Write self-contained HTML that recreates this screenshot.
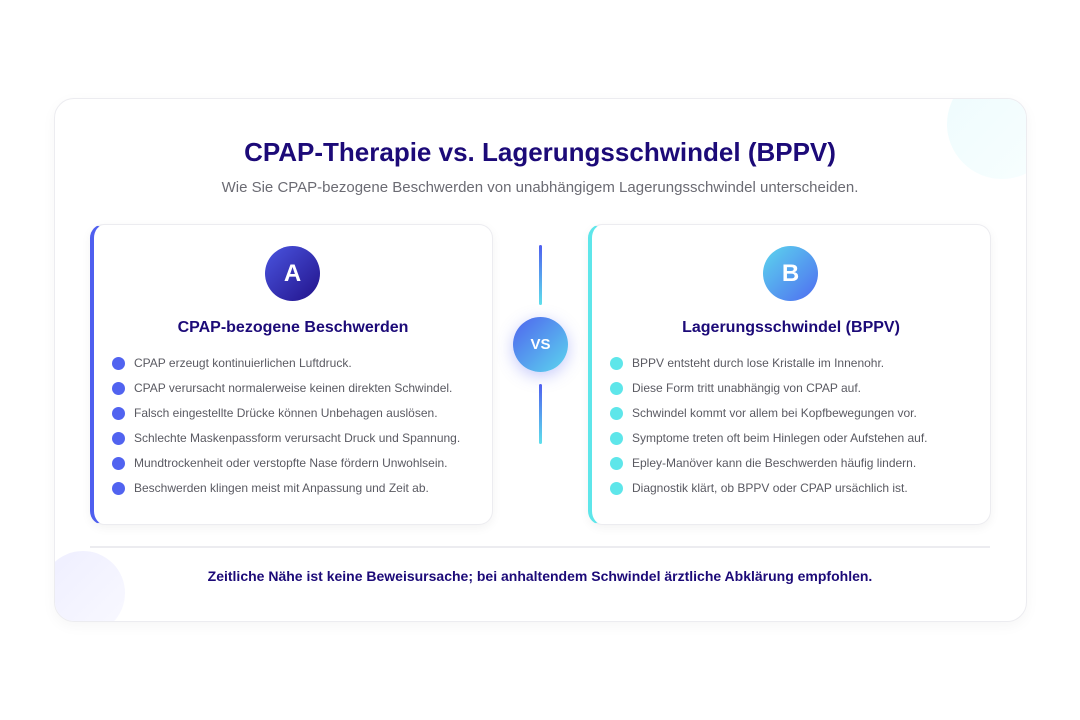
<!DOCTYPE html>
<html><head><meta charset="utf-8"><style>
*{margin:0;padding:0;box-sizing:border-box}
body{width:1080px;height:720px;background:#fff;font-family:"Liberation Sans","Noto Sans CJK SC",sans-serif;position:relative;overflow:hidden}
.outer{position:absolute;left:54px;top:98px;width:973px;height:524px;border:1.5px solid #ececf0;border-radius:20px;background:#fff;box-shadow:0 4px 14px rgba(0,0,0,0.04);overflow:hidden}
.blob1{position:absolute;left:892px;top:-30px;width:110px;height:110px;border-radius:50%;background:linear-gradient(135deg,#eefcfd,#f8feff)}
.blob2{position:absolute;left:-14px;top:452px;width:84px;height:84px;border-radius:50%;background:linear-gradient(135deg,#eeeeff,#f9f9ff)}
.t{position:absolute;left:0;width:1080px;text-align:center}
.sub{top:179px;font-size:15px;color:#6b6b73}
.card{position:absolute;top:224px;width:403px;height:301px;background:#fff;border:1.5px solid #ececf0;border-left:4px solid var(--b);border-radius:14px;box-shadow:0 3px 10px rgba(0,0,0,0.05);overflow:hidden}
.circ{position:absolute;top:21px;left:171px;width:55px;height:55px;border-radius:50%;color:#fff;font-weight:bold;font-size:24px;text-align:center;line-height:55px}
.card h2{position:absolute;top:94px;left:0;width:100%;text-align:center;font-size:16px;color:#1c0a78;font-weight:bold}
.card ul{list-style:none;position:absolute;left:18px;top:128px}
.card li{height:25px;font-size:12px;color:#5a5a62;position:relative;padding-left:22px;line-height:20px;white-space:nowrap}
.card li:before{content:"";position:absolute;left:0;top:4px;width:13px;height:13px;border-radius:50%;background:var(--d)}
.vline{position:absolute;left:539px;width:3px;height:60px;border-radius:2px;background:linear-gradient(#4f5fef,#5ee0ec)}
.vs{position:absolute;left:513px;top:317px;width:55px;height:55px;border-radius:50%;background:linear-gradient(135deg,#4f64ee,#5cd6ee);color:#fff;font-weight:bold;font-size:15px;text-align:center;line-height:55px;box-shadow:0 4px 16px rgba(90,100,240,0.35)}
.div{position:absolute;left:90px;top:546px;width:900px;height:2px;background:#ececf0}
.foot{top:568px;font-size:14px;font-weight:bold;color:#1c0a78}
</style></head><body>
<div class="outer"><div class="blob1"></div><div class="blob2"></div></div>
<div class="t" style="top:137px;font-size:26px;font-weight:bold;color:#1c0a78">CPAP-Therapie vs. Lagerungsschwindel (BPPV)</div>
<div class="t sub">Wie Sie CPAP-bezogene Beschwerden von unabhängigem Lagerungsschwindel unterscheiden.</div>

<div class="card" style="left:90px;--d:#5163f0;--b:#4f5fef">
<div class="circ" style="background:linear-gradient(135deg,#4a55e0,#22128a)">A</div>
<h2>CPAP-bezogene Beschwerden</h2>
<ul>
<li>CPAP erzeugt kontinuierlichen Luftdruck.</li>
<li>CPAP verursacht normalerweise keinen direkten Schwindel.</li>
<li>Falsch eingestellte Drücke können Unbehagen auslösen.</li>
<li>Schlechte Maskenpassform verursacht Druck und Spannung.</li>
<li>Mundtrockenheit oder verstopfte Nase fördern Unwohlsein.</li>
<li>Beschwerden klingen meist mit Anpassung und Zeit ab.</li>
</ul></div>

<div class="vline" style="top:245px"></div>
<div class="vs">VS</div>
<div class="vline" style="top:384px"></div>

<div class="card" style="left:588px;--d:#5ee6ea;--b:#5ee6ea">
<div class="circ" style="background:linear-gradient(135deg,#5cd6ee,#4f6cf0)">B</div>
<h2>Lagerungsschwindel (BPPV)</h2>
<ul>
<li>BPPV entsteht durch lose Kristalle im Innenohr.</li>
<li>Diese Form tritt unabhängig von CPAP auf.</li>
<li>Schwindel kommt vor allem bei Kopfbewegungen vor.</li>
<li>Symptome treten oft beim Hinlegen oder Aufstehen auf.</li>
<li>Epley-Manöver kann die Beschwerden häufig lindern.</li>
<li>Diagnostik klärt, ob BPPV oder CPAP ursächlich ist.</li>
</ul></div>

<div class="div"></div>
<div class="t foot">Zeitliche Nähe ist keine Beweisursache; bei anhaltendem Schwindel ärztliche Abklärung empfohlen.</div>
</body></html>
